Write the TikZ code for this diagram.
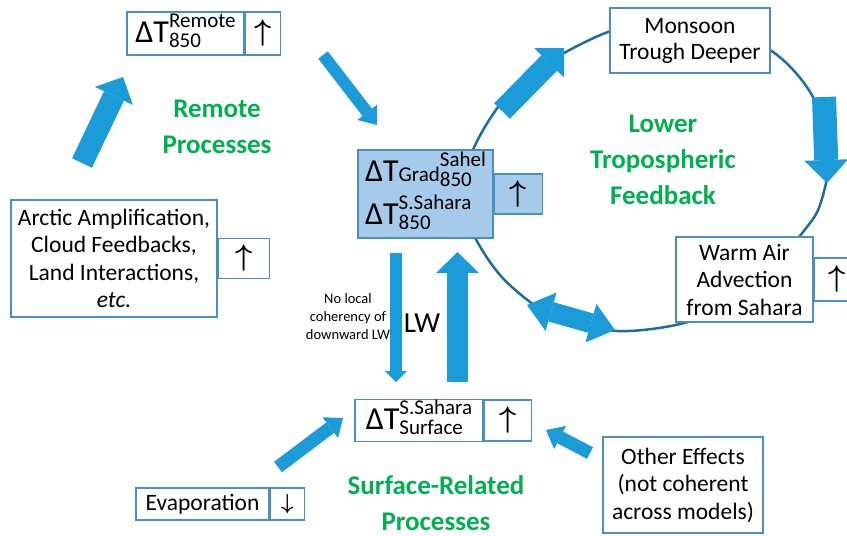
\documentclass[tikz,border=0pt]{standalone}
\usepackage{fontspec}
\usepackage{graphicx}
\setmainfont{Carlito}
\usetikzlibrary{positioning,arrows.meta}
\definecolor{boxline}{RGB}{74,142,194}
\definecolor{cfill}{RGB}{166,203,234}
\definecolor{flowblue}{RGB}{27,155,216}
\definecolor{ringblue}{RGB}{31,108,160}
\definecolor{lblgreen}{RGB}{0,176,80}
\newcommand{\dTfont}{\fontsize{32}{34}\selectfont}
\newcommand{\scfont}{\fontsize{21}{19}\selectfont}
\newcommand{\dT}[3][]{{\dTfont ΔT}#1\raisebox{-5pt}{\scfont\begin{tabular}[b]{@{}l@{}}#2\\#3\end{tabular}}}
\newcommand{\upar}{\scalebox{1.2}{\fontsize{24}{24}\selectfont\boldmath$\uparrow$}}
\newcommand{\downar}{\scalebox{1.05}{\fontsize{20}{20}\selectfont\boldmath$\downarrow$}}
\tikzset{
  font={\fontsize{23.5}{27.5}\selectfont},
  box/.style={draw=boxline, line width=1.5pt, fill=white, align=center},
  cbox/.style={box, fill=cfill},
  grlabel/.style={text=lblgreen, align=center, font={\fontsize{27}{36}\selectfont\bfseries}},
  flowarrow/.style n args={3}{draw=flowblue, line width=#1, -{Triangle[width=#2, length=#3, line width=0pt]}}}

\begin{document}
\begin{tikzpicture}[x=1pt,y=-1pt]
\tikzstyle{every node}+=[inner sep=1pt]
\clip (0,0) rectangle (847,536);
\draw [ringblue, line width=2.5pt] plot [smooth cycle] coordinates {(473,150) (520,82) (608,32) (690,20) (770,50) (813,97) (828,160) (820,205) (803,232) (745,300) (680,324) (617,331) (555,318) (500,275) (466,215)};
\node [box, minimum width=117pt, minimum height=43pt] (remote) at (185.5,33.5) {\dT{Remote}{850}};
\node [box, minimum width=35pt, minimum height=43pt, right=0pt of remote] (remoteup) {\upar};
\node [cbox, minimum width=135pt, minimum height=88pt, align=left, font={\fontsize{22}{43}\selectfont}] (grad) at (425.5,194) {\dT[{\scfont Grad}]{Sahel}{850}\\\dT{S.Sahara}{850}};
\node [cbox, minimum width=48pt, minimum height=40pt, right=0pt of grad] (gradup) {\upar};
\node [box, minimum width=206pt, minimum height=117pt] (arctic) at (114,258.5) {Arctic Amplification,\\Cloud Feedbacks,\\Land Interactions,\\\textit{etc.}};
\node [box, minimum width=51pt, minimum height=40pt, right=0pt of arctic] (arcticup) {\upar};
\node [box, minimum width=160pt, minimum height=65pt, font={\fontsize{23.5}{26}\selectfont}] (monsoon) at (690,40.5) {Monsoon\\Trough Deeper};
\node [box, minimum width=137pt, minimum height=85pt] (warm) at (744.5,279.5) {Warm Air\\Advection\\from Sahara};
\node [box, minimum width=45pt, minimum height=43pt, right=0pt of warm] (warmup) {\upar};
\node [box, minimum width=128pt, minimum height=41pt] (sfc) at (419,420.5) {\dT{S.Sahara}{Surface}};
\node [box, minimum width=47pt, minimum height=41pt, right=0pt of sfc] (sfcup) {\upar};
\node [box, minimum width=133pt, minimum height=32pt] (evap) at (202.5,504) {Evaporation};
\node [box, minimum width=34pt, minimum height=32pt, right=0pt of evap] (evapdown) {\downar};
\node [box, minimum width=160pt, minimum height=96pt] (other) at (683,485) {Other Effects\\(not coherent\\across models)};
\node [grlabel] (remlbl) at (217,127) {Remote\\Processes};
\node [grlabel] (lowlbl) at (663,160) {Lower\\Tropospheric\\Feedback};
\node [grlabel] (sfclbl) at (436,503) {Surface-Related\\Processes};
\node [align=center, font={\fontsize{14.5}{18}\selectfont}] (nolocal) at (348,317) {No local\\coherency of\\downward LW};
\node [font={\fontsize{29}{29}\selectfont}] (lw) at (422,323) {LW};
\coordinate (arcticout) at (82,163);
\coordinate (remotein) at (123,77);
\coordinate (remoteout) at (323,55);
\coordinate (gradin) at (377,125);
\coordinate (lwtop) at (396,253);
\coordinate (lwbot) at (396,382);
\coordinate (upbot) at (457.5,382);
\coordinate (uptop) at (457.5,252);
\coordinate (ringa) at (502,111);
\coordinate (ringb) at (564,48);
\coordinate (ringc) at (824,97);
\coordinate (ringd) at (827,183);
\coordinate (ringe) at (527,305);
\coordinate (ringf) at (615,330);
\coordinate (evapout) at (278,467);
\coordinate (sfcinl) at (343,418);
\coordinate (otherout) at (590,453);
\coordinate (sfcinr) at (546,430);
\draw [flowarrow={22pt}{42pt}{21pt}] (arcticout) -- (remotein);
\draw [flowarrow={12pt}{25pt}{16pt}] (remoteout) -- (gradin);
\draw [flowarrow={12pt}{22pt}{11pt}] (lwtop) -- (lwbot);
\draw [flowarrow={21pt}{43pt}{21pt}] (upbot) -- (uptop);
\draw [flowarrow={22pt}{42pt}{21pt}] (ringa) -- (ringb);
\draw [flowarrow={24pt}{44pt}{23pt}] (ringc) -- (ringd);
\draw [draw=flowblue, line width=20pt, {Triangle[width=40pt, length=25pt, line width=0pt]}-{Triangle[width=40pt, length=25pt, line width=0pt]}] (ringe) -- (ringf);
\draw [flowarrow={13pt}{26pt}{16pt}] (evapout) -- (sfcinl);
\draw [flowarrow={13pt}{26pt}{16pt}] (otherout) -- (sfcinr);
\end{tikzpicture}
\end{document}
